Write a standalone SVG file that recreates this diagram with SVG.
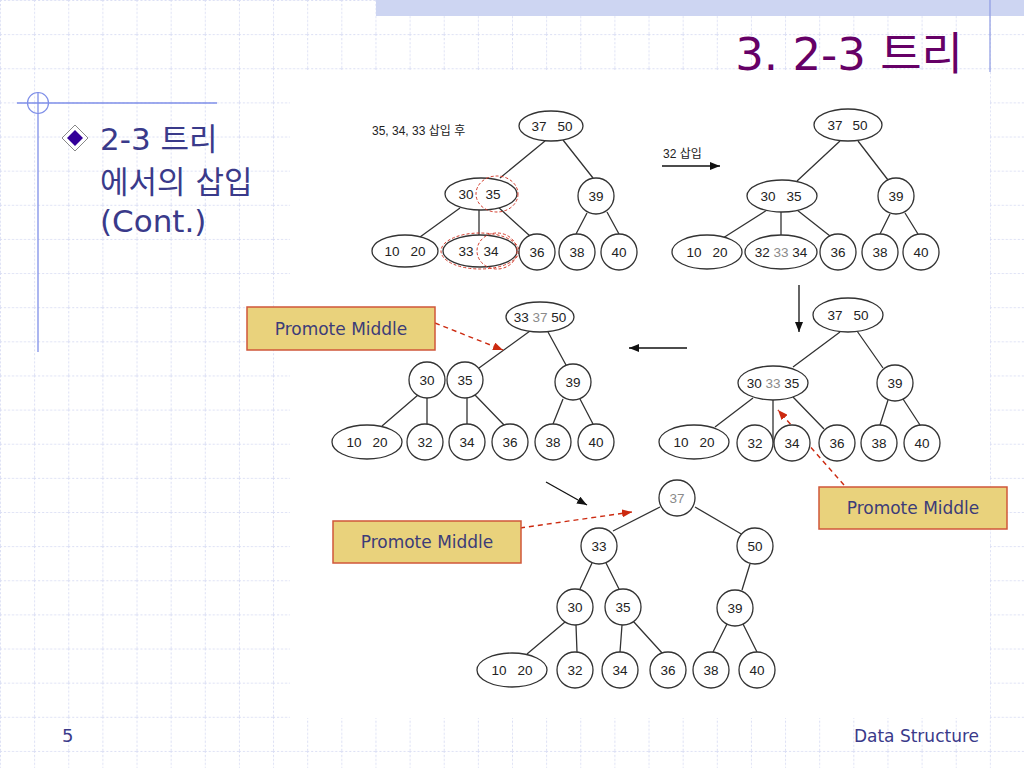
<svg xmlns="http://www.w3.org/2000/svg" width="1024" height="768" viewBox="0 0 1024 768">
<defs>
<pattern id="grid" patternUnits="userSpaceOnUse" width="34.1333" height="34.1333">
<path d="M0,0.5 H34.1333 M0.5,0 V34.1333" stroke="#dadef4" stroke-width="1" stroke-dasharray="2 2" fill="none"/>
</pattern>
<marker id="ab" markerUnits="userSpaceOnUse" markerWidth="10" markerHeight="8" refX="10" refY="4" orient="auto">
<path d="M0,0 L10,4 L0,8 z" fill="#111"/>
</marker>
<marker id="ar" markerUnits="userSpaceOnUse" markerWidth="10" markerHeight="8" refX="10" refY="4" orient="auto">
<path d="M0,0 L10,4 L0,8 z" fill="#cc2a10"/>
</marker>
<style>
.n{fill:#fff;stroke:#333;stroke-width:1.3}
.t{font-family:"Liberation Sans",Arial,sans-serif;font-size:13.5px;fill:#222;text-anchor:middle}
.g{fill:#8a8a8a}
.e{stroke:#333;stroke-width:1.3;fill:none}
.rd{fill:none;stroke:#d23a2a;stroke-width:1;stroke-dasharray:3 2}
.ra{stroke:#cc2a10;stroke-width:1.4;stroke-dasharray:5 4;fill:none;marker-end:url(#ar)}
.ba{stroke:#111;stroke-width:1.3;fill:none;marker-end:url(#ab)}
.box{fill:#e9d27c;stroke:#d0573a;stroke-width:1.5}
.bt{font-family:"DejaVu Sans",Verdana,sans-serif;font-size:17px;fill:#3c3c78;text-anchor:middle}
.side{font-family:"DejaVu Sans","Noto Sans CJK KR",sans-serif;font-size:31px;fill:#3a3a8a}
.lbl{font-family:"Liberation Sans","Noto Sans CJK KR",sans-serif;font-size:12px;fill:#222}
</style>
</defs>
<!-- background -->
<rect width="1024" height="768" fill="#fff"/>
<rect width="1024" height="768" fill="url(#grid)"/>
<rect x="376" y="0" width="648" height="16" fill="#cdd5f2"/>
<rect x="290" y="70" width="700" height="648" fill="#fff"/>
<line x1="990" y1="0" x2="990" y2="72" stroke="#8d9ae3" stroke-width="1.2"/>
<!-- title -->
<text x="963" y="70" text-anchor="end" font-family="DejaVu Sans,'Noto Sans CJK KR',sans-serif" font-size="45" fill="#660066">3. 2-3 트리</text>
<!-- left decoration -->
<line x1="17" y1="103" x2="217" y2="103" stroke="#7f8fe8" stroke-width="1.3"/>
<line x1="38" y1="92" x2="38" y2="352" stroke="#7f8fe8" stroke-width="1.3"/>
<circle cx="38" cy="103" r="10.5" fill="none" stroke="#7f8fe8" stroke-width="1.2"/>
<path d="M75,125 L88,138 L75,151 L62,138 z" fill="#fff" stroke="#888" stroke-width="1"/>
<path d="M75,130 L83,138 L75,146 L67,138 z" fill="#330099"/>
<text class="side" x="100" y="150">2-3 트리</text>
<text class="side" x="100" y="193">에서의 삽입</text>
<text class="side" x="100" y="232">(Cont.)</text>
<!-- footer -->
<text x="62" y="742" font-family="DejaVu Sans,sans-serif" font-size="18" fill="#3a3a8a">5</text>
<text x="979" y="742" text-anchor="end" font-family="DejaVu Sans,sans-serif" font-size="17" fill="#3a3a8a">Data Structure</text>

<!-- connectors -->
<g id="connectors">
<path class="e" d="M545,141L500,178 M563,140L593,178 M460,208L420,237 M479,210L479,235 M498,207L530,236 M587,213L576,234 M607,212L619,234"/>
<path class="e" d="M840,141L797,181 M858,141L888,180 M767,210L723,238 M781,212L781,235 M797,210L830,236 M890,214L880,234 M905,213L918,234"/>
<path class="e" d="M530,331L479,368 M548,332L566,365 M418,395L382,426 M427,398L427,424 M467,398L467,424 M475,395L505,426 M563,399L553,424 M580,399L593,424"/>
<path class="e" d="M840,332L793,367 M857,331L883,368 M753,398L715,427 M773,400L773,443 M793,397L824,429 M888,400L880,425 M903,399L920,425"/>
<path class="e" d="M660,507L613,531 M695,507L743,535 M592,563L580,589 M606,563L619,589 M750,564L742,590 M565,622L527,654 M576,625L577,652 M622,625L620,652 M633,621L663,654 M727,624L713,652 M743,624L757,652"/>
<line class="ba" x1="662" y1="166" x2="720" y2="166"/>
<line class="ba" x1="799" y1="285" x2="799" y2="332"/>
<line class="ba" x1="687" y1="348" x2="629" y2="348"/>
<line class="ba" x1="546" y1="482" x2="587" y2="505"/>
<line class="ra" x1="435" y1="323" x2="503" y2="350"/>
<line class="ra" x1="844" y1="485" x2="778" y2="410"/>
<line class="ra" x1="520" y1="528" x2="632" y2="512"/>
</g>

<!-- tree 1 -->
<text class="lbl" x="372" y="135">35, 34, 33 삽입 후</text>
<g id="t1-root"><ellipse class="n" cx="551" cy="126" rx="32" ry="15"/><text class="t" x="539" y="131">37</text><text class="t" x="565" y="131">50</text></g>
<g id="t1-3035"><ellipse class="n" cx="481" cy="194" rx="36" ry="16"/><text class="t" x="466" y="199">30</text><text class="t" x="493" y="199">35</text><ellipse class="rd" cx="497" cy="194" rx="21" ry="18"/></g>
<g id="t1-39"><circle class="n" cx="596" cy="196" r="18"/><text class="t" x="596" y="201">39</text></g>
<g id="t1-1020"><ellipse class="n" cx="405" cy="251" rx="33" ry="16"/><text class="t" x="392" y="256">10</text><text class="t" x="418" y="256">20</text></g>
<g id="t1-3334"><ellipse class="n" cx="480" cy="251" rx="37" ry="16"/><text class="t" x="466" y="256">33</text><text class="t" x="491" y="256">34</text><ellipse class="rd" cx="480" cy="251" rx="39" ry="18"/><ellipse class="rd" cx="497" cy="251" rx="20" ry="18"/></g>
<g id="t1-36"><circle class="n" cx="537" cy="252" r="18"/><text class="t" x="537" y="257">36</text></g>
<g id="t1-38"><circle class="n" cx="577" cy="252" r="18"/><text class="t" x="577" y="257">38</text></g>
<g id="t1-40"><circle class="n" cx="619" cy="252" r="18"/><text class="t" x="619" y="257">40</text></g>

<!-- tree 2 -->
<text class="lbl" x="663" y="158">32 삽입</text>
<g id="t2-root"><ellipse class="n" cx="848" cy="125" rx="34" ry="16"/><text class="t" x="835" y="130">37</text><text class="t" x="860" y="130">50</text></g>
<g id="t2-3035"><ellipse class="n" cx="782" cy="196" rx="35" ry="16"/><text class="t" x="768" y="201">30</text><text class="t" x="794" y="201">35</text></g>
<g id="t2-39"><circle class="n" cx="896" cy="196" r="18"/><text class="t" x="896" y="201">39</text></g>
<g id="t2-1020"><ellipse class="n" cx="707" cy="252" rx="35" ry="17"/><text class="t" x="694" y="257">10</text><text class="t" x="720" y="257">20</text></g>
<g id="t2-323334"><ellipse class="n" cx="781" cy="252" rx="36" ry="17"/><text class="t" x="781" y="257">32 <tspan class="g">33</tspan> 34</text></g>
<g id="t2-36"><circle class="n" cx="838" cy="252" r="18"/><text class="t" x="838" y="257">36</text></g>
<g id="t2-38"><circle class="n" cx="880" cy="252" r="18"/><text class="t" x="880" y="257">38</text></g>
<g id="t2-40"><circle class="n" cx="921" cy="252" r="18"/><text class="t" x="921" y="257">40</text></g>

<!-- tree 3 -->
<g id="t3-root"><ellipse class="n" cx="540" cy="317" rx="34" ry="15"/><text class="t" x="540" y="322">33 <tspan class="g">37</tspan> 50</text></g>
<g id="t3-30"><circle class="n" cx="427" cy="380" r="18"/><text class="t" x="427" y="385">30</text></g>
<g id="t3-35"><circle class="n" cx="465" cy="380" r="18"/><text class="t" x="465" y="385">35</text></g>
<g id="t3-39"><circle class="n" cx="573" cy="382" r="18"/><text class="t" x="573" y="387">39</text></g>
<g id="t3-1020"><ellipse class="n" cx="367" cy="442" rx="35" ry="17"/><text class="t" x="354" y="447">10</text><text class="t" x="380" y="447">20</text></g>
<g id="t3-32"><circle class="n" cx="425" cy="442" r="18"/><text class="t" x="425" y="447">32</text></g>
<g id="t3-34"><circle class="n" cx="467" cy="442" r="18"/><text class="t" x="467" y="447">34</text></g>
<g id="t3-36"><circle class="n" cx="510" cy="442" r="18"/><text class="t" x="510" y="447">36</text></g>
<g id="t3-38"><circle class="n" cx="553" cy="442" r="18"/><text class="t" x="553" y="447">38</text></g>
<g id="t3-40"><circle class="n" cx="596" cy="442" r="18"/><text class="t" x="596" y="447">40</text></g>

<!-- tree 4 -->
<g id="t4-root"><ellipse class="n" cx="848" cy="315" rx="35" ry="17"/><text class="t" x="835" y="320">37</text><text class="t" x="861" y="320">50</text></g>
<g id="t4-303335"><ellipse class="n" cx="773" cy="383" rx="35" ry="17"/><text class="t" x="773" y="388">30 <tspan class="g">33</tspan> 35</text></g>
<g id="t4-39"><circle class="n" cx="895" cy="383" r="18"/><text class="t" x="895" y="388">39</text></g>
<g id="t4-1020"><ellipse class="n" cx="694" cy="442" rx="35" ry="17"/><text class="t" x="681" y="447">10</text><text class="t" x="707" y="447">20</text></g>
<g id="t4-32"><circle class="n" cx="755" cy="443" r="18"/><text class="t" x="755" y="448">32</text></g>
<g id="t4-34"><circle class="n" cx="792" cy="443" r="18"/><text class="t" x="792" y="448">34</text></g>
<g id="t4-36"><circle class="n" cx="837" cy="443" r="18"/><text class="t" x="837" y="448">36</text></g>
<g id="t4-38"><circle class="n" cx="879" cy="443" r="18"/><text class="t" x="879" y="448">38</text></g>
<g id="t4-40"><circle class="n" cx="922" cy="443" r="18"/><text class="t" x="922" y="448">40</text></g>

<!-- tree 5 -->
<g id="t5-37"><circle class="n" cx="677" cy="498" r="18"/><text class="t g" x="677" y="503">37</text></g>
<g id="t5-33"><circle class="n" cx="599" cy="546" r="18"/><text class="t" x="599" y="551">33</text></g>
<g id="t5-50"><circle class="n" cx="755" cy="546" r="18"/><text class="t" x="755" y="551">50</text></g>
<g id="t5-30"><circle class="n" cx="575" cy="607" r="18"/><text class="t" x="575" y="612">30</text></g>
<g id="t5-35"><circle class="n" cx="623" cy="607" r="18"/><text class="t" x="623" y="612">35</text></g>
<g id="t5-39"><circle class="n" cx="735" cy="608" r="18"/><text class="t" x="735" y="613">39</text></g>
<g id="t5-1020"><ellipse class="n" cx="512" cy="670" rx="35" ry="17"/><text class="t" x="499" y="675">10</text><text class="t" x="525" y="675">20</text></g>
<g id="t5-32"><circle class="n" cx="575" cy="670" r="18"/><text class="t" x="575" y="675">32</text></g>
<g id="t5-34"><circle class="n" cx="620" cy="670" r="18"/><text class="t" x="620" y="675">34</text></g>
<g id="t5-36"><circle class="n" cx="668" cy="670" r="18"/><text class="t" x="668" y="675">36</text></g>
<g id="t5-38"><circle class="n" cx="711" cy="670" r="18"/><text class="t" x="711" y="675">38</text></g>
<g id="t5-40"><circle class="n" cx="757" cy="670" r="18"/><text class="t" x="757" y="675">40</text></g>

<!-- callouts -->
<g id="promote-1"><rect class="box" x="247" y="307" width="188" height="43"/><text class="bt" x="341" y="335">Promote Middle</text></g>
<g id="promote-2"><rect class="box" x="819" y="487" width="188" height="42"/><text class="bt" x="913" y="514">Promote Middle</text></g>
<g id="promote-3"><rect class="box" x="333" y="521" width="188" height="42"/><text class="bt" x="427" y="548">Promote Middle</text></g>
</svg>
